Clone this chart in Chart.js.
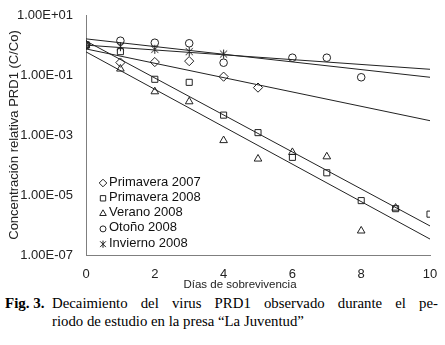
<!DOCTYPE html>
<html><head><meta charset="utf-8">
<script src="https://cdn.jsdelivr.net/npm/chart.js@4"></script>
<style>
html,body{margin:0;padding:0;background:#fff;}
#wrap{position:relative;width:445px;height:345px;overflow:hidden;}
#cbox{position:absolute;left:0;top:0;width:445px;height:292px;}
.cap{position:absolute;font-family:"Liberation Serif","Times New Roman",serif;font-size:14.8px;color:#000;white-space:nowrap;line-height:18px;}
</style></head><body>
<div id="wrap">
<div id="cbox"><canvas id="c"></canvas></div>
<div class="cap" style="left:5px;top:294px;font-size:15px;"><b>Fig. 3.</b></div>
<div class="cap" style="left:52px;top:294px;width:386px;text-align:justify;text-align-last:justify;white-space:normal;">Decaimiento del virus PRD1 observado durante el pe-</div>
<div class="cap" style="left:52px;top:312px;">riodo de estudio en la presa “La Juventud”</div>
</div>
<script>
// ---- data ----
const seriesNames = ['Primavera 2007','Primavera 2008','Verano 2008','Otoño 2008','Invierno 2008'];
const prim07Days = [0,1,2,3,4,5];
const prim07 = [1.0,0.26,0.27,0.29,0.088,0.038];
const prim08Days = [0,1,2,3,4,5,6,7,8,9,10];
const prim08 = [1.0,0.60,0.072,0.057,0.0046,0.0012,1.8e-4,5.5e-5,6.5e-6,3.5e-6,2.3e-6];
const ver08Days = [0,1,2,3,4,5,6,7,8,9];
const ver08 = [1.0,0.16,0.028,0.013,6.6e-4,1.6e-4,2.65e-4,1.9e-4,6.4e-7,3.7e-6];
const oto08Days = [0,1,2,3,4,6,7,8];
const oto08 = [1.0,1.39,1.19,1.14,0.257,0.377,0.377,0.084];
const inv08Days = [0,1,2,3,4];
const inv08 = [1.0,0.88,0.72,0.60,0.50];
const trendDays = [0,10];
const trendPrim07 = [0.74,0.003];
const trendPrim08 = [1.36,9.3e-7];
const trendVer08 = [0.59,3.4e-7];
const trendOto08 = [1.6,0.084];
const trendInv08 = [0.99,0.155];
const yTickValues = [1e1,1e-1,1e-3,1e-5,1e-7];
const xTickValues = [0,2,4,6,8,10];
const xTitle = 'Días de sobrevivencia';
const yTitle = 'Concentración relativa PRD1 (C/Co)';

const FONT = '"Liberation Sans", Arial, sans-serif';
const INK = '#222';

// asterisk marker (vertical + X) like the original star
function makeStar(r){
  const c=document.createElement('canvas'); const s=Math.ceil(r*2+2); c.width=s;c.height=s;
  const g=c.getContext('2d'); const m=s/2; g.strokeStyle=INK; g.lineWidth=1;
  g.beginPath();
  g.moveTo(m,m-r);g.lineTo(m,m+r);
  const d=r*0.8;
  g.moveTo(m-d,m-d);g.lineTo(m+d,m+d);
  g.moveTo(m-d,m+d);g.lineTo(m+d,m-d);
  g.stroke();
  return c;
}
const starImg = makeStar(4.5);

function pts(xs,ys){return xs.map((x,i)=>({x:x,y:ys[i]}));}

const markerStyles = ['rectRot','rect','triangle','circle',starImg];
const markerRadius = [4.6,4.3,4.4,3.8,4.5];
const seriesDays = [prim07Days,prim08Days,ver08Days,oto08Days,inv08Days];
const seriesVals = [prim07,prim08,ver08,oto08,inv08];
const trends = [trendPrim07,trendPrim08,trendVer08,trendOto08,trendInv08];

const datasets = [];
trends.forEach((t,i)=>{
  datasets.push({label:seriesNames[i]+' ajuste',data:pts(trendDays,t),showLine:true,
    borderColor:INK,borderWidth:1,pointRadius:0,fill:false});
});
seriesNames.forEach((n,i)=>{
  datasets.push({label:n,data:pts(seriesDays[i],seriesVals[i]),showLine:false,
    pointStyle:markerStyles[i],pointRadius:markerRadius[i],pointBorderColor:INK,
    pointBackgroundColor:'rgba(0,0,0,0)',pointBorderWidth:1});
});

function drawMarker(ctx,style,x,y,r){
  ctx.beginPath();
  if(style==='rectRot'){ctx.moveTo(x,y-r);ctx.lineTo(x+r,y);ctx.lineTo(x,y+r);ctx.lineTo(x-r,y);ctx.closePath();}
  else if(style==='rect'){const s=r*Math.SQRT1_2;ctx.rect(x-s,y-s,2*s,2*s);}
  else if(style==='triangle'){const h=r;ctx.moveTo(x,y-h);ctx.lineTo(x+h*0.866,y+h*0.5);ctx.lineTo(x-h*0.866,y+h*0.5);ctx.closePath();}
  else if(style==='circle'){ctx.arc(x,y,r,0,Math.PI*2);}
  else {ctx.moveTo(x,y-r);ctx.lineTo(x,y+r);const d=r*0.8;ctx.moveTo(x-d,y-d);ctx.lineTo(x+d,y+d);ctx.moveTo(x-d,y+d);ctx.lineTo(x+d,y-d);}
  ctx.stroke();
}

const innerLegend = {
  id:'innerLegend',
  afterDraw(chart){
    const ctx=chart.ctx, a=chart.chartArea;
    ctx.save();
    ctx.strokeStyle=INK; ctx.lineWidth=1; ctx.fillStyle='#111';
    ctx.font='13px '+FONT; ctx.textBaseline='middle'; ctx.textAlign='left';
    const styles=['rectRot','rect','triangle','circle','star'];
    const radii=[3.8,3.8,3.8,3.0,3.6];
    seriesNames.forEach((n,i)=>{
      const y=a.bottom-73+i*15.3;
      drawMarker(ctx,styles[i],a.left+17,y+1,radii[i]);
      ctx.fillText(n,a.left+23,y);
    });
    // x-axis title, placed as in the original figure
    ctx.fillStyle='#222'; ctx.font='11.5px '+FONT; ctx.textAlign='center';
    ctx.fillText(xTitle,240,285);
    ctx.restore();
  }
};

new Chart(document.getElementById('c'),{
  type:'scatter',
  data:{datasets:datasets},
  plugins:[innerLegend],
  options:{
    responsive:true,maintainAspectRatio:false,animation:false,
    layout:{padding:{left:0,right:15,top:15,bottom:0}},
    plugins:{legend:{display:false},tooltip:{enabled:false}},
    scales:{
      x:{type:'linear',min:0,max:10,
        afterBuildTicks(s){s.ticks=xTickValues.map(v=>({value:v}));},
        afterFit(s){s.height=37;},
        grid:{display:false},border:{display:true,color:'#7f7f7f',width:1},
        ticks:{padding:4,color:'#222',font:{family:FONT,size:13},maxRotation:0},
        title:{display:false,text:xTitle}
      },
      y:{type:'logarithmic',min:1e-7,max:10,
        afterBuildTicks(s){s.ticks=yTickValues.map(v=>({value:v}));},
        afterFit(s){s.width=86;},
        grid:{display:false},border:{display:true,color:'#7f7f7f',width:1},
        ticks:{padding:5,color:'#222',font:{family:FONT,size:13},
          callback(v){const e=Math.round(Math.log10(v));return '1.00E'+(e<0?'-':'+')+String(Math.abs(e)).padStart(2,'0');}},
        title:{display:true,text:yTitle,color:'#222',font:{family:FONT,size:13},padding:{top:7,bottom:0}}
      }
    }
  }
});
</script>
</body></html>
